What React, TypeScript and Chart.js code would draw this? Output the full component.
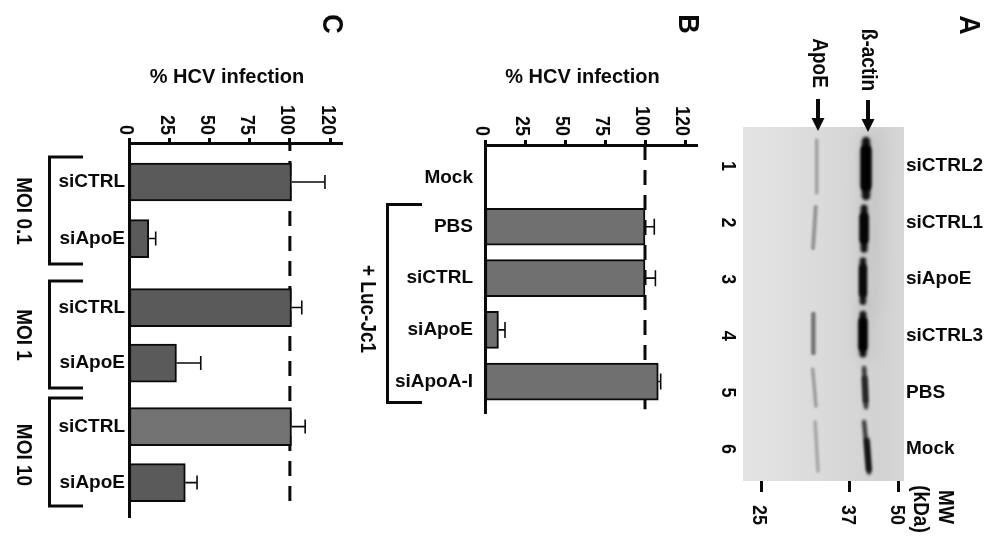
import React, { useEffect, useRef } from "react";
import { Chart, registerables } from "chart.js";

Chart.register(...registerables);

// ---------- panel C ----------
const cLabels = ["siCTRL", "siApoE", "siCTRL", "siApoE", "siCTRL", "siApoE"];
const cValues = [101, 12.3, 101, 29.5, 101, 35];
const cErrorTop = [121.8, 16.6, 107.4, 44.6, 109.5, 42.3];
const cBarColors = ["#5a5a5a", "#5a5a5a", "#5a5a5a", "#5a5a5a", "#727272", "#5a5a5a"];
const cRows = [0.647, 1.584, 2.728, 3.648, 4.701, 5.63];
const cGroups = ["MOI 0.1", "MOI 1", "MOI 10"];

// ---------- panel B ----------
const bLabels = ["Mock", "PBS", "siCTRL", "siApoE", "siApoA-I"];
const bValues = [null, 100, 100, 8.4, 108.3];
const bErrorTop = [null, 105.8, 106.5, 12.5, 109.8];
const bBarColors = ["#707070", "#707070", "#707070", "#707070", "#707070"];
const bRows = [0.641, 1.602, 2.608, 3.622, 4.634];
const bGroups = ["+ Luc-Jc1"];

// ---------- shared value axis ----------
const valueTicks = [0, 25, 50, 75, 100, 125];
const valueTickLabels = ["0", "25", "50", "75", "100", "120"];
const referenceValue = 100;

// ---------- panel A ----------
const laneNames = ["siCTRL2", "siCTRL1", "siApoE", "siCTRL3", "PBS", "Mock"];
const laneNumbers = ["1", "2", "3", "4", "5", "6"];
const lanes = [1, 2, 3, 4, 5, 6];
const mwLabels = ["25", "37", "50"];
const mwPositions = [11.2, 66.3, 96.7];
const actinHalo = [
  [[80, 0.6], [78, 3.4]],
  [[76, 3.65], [76, 4.28]],
];
const actinHaloTones = ["rgba(0,0,0,0.05)", "rgba(0,0,0,0.05)"];
const actinHaloWeights = [24, 20];
const actinBands = [
  [[76.4, 0.56], [76.4, 1.53]],
  [[75.2, 1.74], [75.2, 2.47]],
  [[74.5, 2.67], [74.5, 3.4]],
  [[74.5, 3.62], [74.5, 4.32]],
  [[75.2, 4.57], [76.4, 5.26]],
  [[75.2, 5.52], [78.3, 6.42]],
];
const actinTones = ["#141414", "#141414", "#181818", "#141414", "#333333", "#2c2c2c"];
const actinWeights = [8.5, 7, 6.5, 7, 4.5, 4];
const actinCores = [
  [[76.4, 0.72], [76.4, 1.35]],
  [[75.2, 1.9], [75.2, 2.3]],
  [[74.5, 2.8], [74.5, 3.25]],
  [[74.5, 3.75], [74.5, 4.2]],
  [[75.6, 4.75], [76.2, 5.15]],
  [[77, 5.85], [78.2, 6.36]],
];
const actinCoreTones = ["#020202", "#050505", "#0a0a0a", "#020202", "#262626", "#121212"];
const actinCoreWeights = [11, 9, 7.5, 9, 5.2, 5.5];
const apoeBands = [
  [[45.8, 0.541], [45.8, 1.477]],
  [[45.2, 1.724], [43.5, 2.449]],
  [[43.7, 3.615], [43.7, 4.304]],
  [[43.3, 4.587], [45.3, 5.24]],
  [[44.8, 5.523], [46.6, 6.389]],
];
const apoeTones = ["#a0a0a0", "#949494", "#747474", "#9c9c9c", "#a6a6a6"];
const apoeWeights = [3.5, 4, 4.5, 3.5, 3.5];

const FONT = '"Liberation Sans", Arial, sans-serif';
const INK = "#0a0a0a";

function turnedText(ctx: any, text: string, x: number, y: number, size: number, align: any = "center") {
  ctx.save();
  ctx.translate(x, y);
  ctx.rotate(Math.PI / 2);
  ctx.scale(1, 1.12);
  ctx.font = `bold ${size}px ${FONT}`;
  ctx.fillStyle = INK;
  ctx.textAlign = align;
  ctx.textBaseline = "middle";
  ctx.fillText(text, 0, 0);
  ctx.restore();
}

function flatText(ctx: any, text: string, x: number, y: number, size: number) {
  ctx.save();
  ctx.font = `bold ${size}px ${FONT}`;
  ctx.fillStyle = INK;
  ctx.textAlign = "center";
  ctx.textBaseline = "middle";
  ctx.fillText(text, x, y);
  ctx.restore();
}

function bracket(ctx: any, x: number, y0: number, y1: number, xEnd: number, w: number) {
  ctx.save();
  ctx.strokeStyle = INK;
  ctx.lineWidth = w;
  ctx.lineJoin = "miter";
  ctx.beginPath();
  ctx.moveTo(xEnd, y0);
  ctx.lineTo(x, y0);
  ctx.lineTo(x, y1);
  ctx.lineTo(xEnd, y1);
  ctx.stroke();
  ctx.restore();
}

function barPanelConfig(p: any): any {
  const annotate = {
    id: "annotate",
    afterDatasetsDraw(chart: any) {
      const { ctx, scales } = chart;
      ctx.save();
      ctx.strokeStyle = INK;
      ctx.lineWidth = 1.6;
      p.errors.forEach((hi: number | null, i: number) => {
        if (hi == null) return;
        const y = scales.y.getPixelForValue(p.rows[i]);
        const x0 = scales.x.getPixelForValue(p.values[i]);
        const x1 = scales.x.getPixelForValue(hi);
        ctx.beginPath();
        ctx.moveTo(x0, y);
        ctx.lineTo(x1, y);
        ctx.moveTo(x1, y - p.cap / 2);
        ctx.lineTo(x1, y + p.cap / 2);
        ctx.stroke();
      });
      ctx.restore();
    },
    afterDraw(chart: any) {
      const { ctx, scales } = chart;
      scales.x.ticks.forEach((t: any, i: number) => {
        turnedText(ctx, valueTickLabels[i], scales.x.getPixelForValue(t.value) - 3, p.tickEnd, 18, "right");
      });
      flatText(ctx, "% HCV infection", p.titleX, 77, 20);
      turnedText(ctx, p.letter, p.letterX, 24, 27);
      p.brackets.forEach((b: number[]) => bracket(ctx, p.bracketX, b[0], b[1], p.bracketEnd, p.bracketW));
      p.groups.forEach((g: string, i: number) => turnedText(ctx, g, p.groupX, p.groupY[i], 19));
    },
  };
  return {
    data: {
      datasets: [
        {
          type: "bar",
          data: p.values.map((v: number | null, i: number) => ({ x: v, y: p.rows[i] })),
          backgroundColor: p.colors,
          borderColor: INK,
          borderWidth: 2,
          borderSkipped: false,
          barThickness: p.thickness,
          order: 1,
        },
        {
          type: "line",
          data: [
            { x: referenceValue, y: 0 },
            { x: referenceValue, y: p.dashEnd },
          ],
          borderColor: INK,
          borderWidth: 3,
          borderDash: [15, 10],
          borderDashOffset: p.dashOffset,
          pointRadius: 0,
          fill: false,
          order: 2,
        },
      ],
    },
    options: {
      indexAxis: "y",
      responsive: false,
      animation: false,
      events: [],
      layout: {
        autoPadding: false,
        padding: { left: 0, top: 0, right: 989 - p.right, bottom: 540 - p.bottom },
      },
      plugins: { legend: { display: false }, title: { display: false }, tooltip: { enabled: false } },
      scales: {
        x: {
          type: "linear",
          position: "top",
          min: 0,
          max: p.xMax,
          afterFit: (s: any) => { s.height = p.top; },
          afterBuildTicks: (s: any) => { s.ticks = valueTicks.map((value) => ({ value })); },
          ticks: { display: false },
          grid: { drawOnChartArea: false, drawTicks: true, tickLength: 5, tickWidth: 3, tickColor: INK },
          border: { color: INK, width: 3 },
        },
        y: {
          type: "linear",
          position: "left",
          reverse: true,
          offset: false,
          min: 0,
          max: p.yMax,
          afterFit: (s: any) => { s.width = p.left; },
          afterBuildTicks: (s: any) => { s.ticks = p.rows.map((value: number) => ({ value })); },
          ticks: {
            autoSkip: false,
            padding: p.labelGap,
            color: INK,
            font: { family: FONT, weight: "bold", size: 19 },
            callback: (_: any, i: number) => p.labels[i],
          },
          grid: { display: true, offset: false, drawOnChartArea: false, drawTicks: false },
          border: { color: INK, width: 3 },
        },
      },
    },
    plugins: [annotate],
  };
}

function arrow(ctx: any, x: number, y0: number, y1: number) {
  ctx.save();
  ctx.fillStyle = INK;
  ctx.fillRect(x - 2, y0, 4, y1 - y0 - 12);
  ctx.beginPath();
  ctx.moveTo(x - 6.5, y1 - 13);
  ctx.lineTo(x + 6.5, y1 - 13);
  ctx.lineTo(x, y1);
  ctx.closePath();
  ctx.fill();
  ctx.restore();
}

function bandSet(bands: number[][][], tones: string[], weights: number[], blur: string) {
  return bands.map((band, i) => ({
    data: band.map((pt) => ({ x: pt[0], y: pt[1] })),
    showLine: true,
    borderColor: tones[i],
    borderWidth: weights[i],
    borderCapStyle: "round",
    pointRadius: 0,
    fill: false,
    blur,
  }));
}

function gelConfig(): any {
  const gel = {
    id: "gel",
    beforeDatasetsDraw(chart: any) {
      const { ctx, chartArea: a } = chart;
      const g = ctx.createLinearGradient(a.left, 0, a.right, 0);
      g.addColorStop(0, "#e4e4e4");
      g.addColorStop(0.5, "#dadada");
      g.addColorStop(0.85, "#d2d2d2");
      g.addColorStop(1, "#d6d6d6");
      ctx.save();
      ctx.fillStyle = g;
      ctx.fillRect(a.left, a.top, a.right - a.left, a.bottom - a.top);
      ctx.restore();
    },
    beforeDatasetDraw(chart: any, args: any) {
      chart.ctx.filter = chart.data.datasets[args.index].blur;
    },
    afterDatasetDraw(chart: any) {
      chart.ctx.filter = "none";
    },
    afterDraw(chart: any) {
      const { ctx, scales } = chart;
      scales.y.ticks.forEach((t: any, i: number) => {
        turnedText(ctx, laneNumbers[i], 728, scales.y.getPixelForValue(t.value), 18);
      });
      scales.x.ticks.forEach((t: any, i: number) => {
        turnedText(ctx, mwLabels[i], scales.x.getPixelForValue(t.value) - 2, 515, 18);
      });
      turnedText(ctx, "MW", 945, 507, 19);
      turnedText(ctx, "(kDa)", 920, 509, 19);
      turnedText(ctx, "ApoE", 819, 63, 19);
      turnedText(ctx, "ß-actin", 868, 60, 19);
      turnedText(ctx, "A", 968, 25, 27);
      arrow(ctx, 818, 99, 131);
      arrow(ctx, 868, 100, 132);
    },
  };
  return {
    type: "scatter",
    data: {
      datasets: [
        ...bandSet(actinCores, actinCoreTones, actinCoreWeights, "blur(1.6px)"),
        ...bandSet(actinBands, actinTones, actinWeights, "blur(1.6px)"),
        ...bandSet(apoeBands, apoeTones, apoeWeights, "blur(1.3px)"),
        ...bandSet(actinHalo, actinHaloTones, actinHaloWeights, "blur(7px)"),
      ],
    },
    options: {
      responsive: false,
      animation: false,
      events: [],
      layout: { autoPadding: false, padding: { left: 743, top: 127, right: 0, bottom: 0 } },
      plugins: { legend: { display: false }, title: { display: false }, tooltip: { enabled: false } },
      scales: {
        x: {
          type: "linear",
          position: "bottom",
          min: 0,
          max: 100,
          afterFit: (s: any) => { s.height = 59; },
          afterBuildTicks: (s: any) => { s.ticks = mwPositions.map((value) => ({ value })); },
          ticks: { display: false },
          grid: { drawOnChartArea: false, drawTicks: true, tickLength: 11, tickWidth: 3, tickColor: INK },
          border: { display: false },
        },
        y: {
          type: "linear",
          position: "right",
          reverse: true,
          min: 0.311,
          max: 6.565,
          afterFit: (s: any) => { s.width = 85; },
          afterBuildTicks: (s: any) => { s.ticks = lanes.map((value) => ({ value })); },
          ticks: {
            autoSkip: false,
            padding: 2,
            color: INK,
            font: { family: FONT, weight: "bold", size: 19 },
            callback: (_: any, i: number) => laneNames[i],
          },
          grid: { display: false, drawTicks: false },
          border: { display: false },
        },
      },
    },
    plugins: [gel],
  };
}

const cPanel = {
  labels: cLabels, values: cValues, errors: cErrorTop, colors: cBarColors, rows: cRows,
  left: 129, right: 342, top: 143, bottom: 517, xMax: 132.4, yMax: 6.2, thickness: 38,
  cap: 14, labelGap: 4, dashEnd: 6.003, dashOffset: 7, tickEnd: 135, titleX: 227,
  letter: "C", letterX: 331, bracketX: 49.5, bracketEnd: 83, bracketW: 3,
  brackets: [[157, 264], [281, 388], [398, 506]],
  groups: cGroups, groupX: 23, groupY: [211, 335, 455],
};

const bPanel = {
  labels: bLabels, values: bValues, errors: bErrorTop, colors: bBarColors, rows: bRows,
  left: 485, right: 697, top: 145, bottom: 413, xMax: 132.5, yMax: 5.25, thickness: 37,
  cap: 16, labelGap: 12, dashEnd: 5.176, dashOffset: 0, tickEnd: 136, titleX: 582.5,
  letter: "B", letterX: 687, bracketX: 387.5, bracketEnd: 422, bracketW: 3,
  brackets: [[204.5, 402.5]],
  groups: bGroups, groupX: 367, groupY: [309],
};

const canvasStyle: React.CSSProperties = { position: "absolute", left: 0, top: 0 };

export default function App() {
  const cRef = useRef<HTMLCanvasElement>(null);
  const bRef = useRef<HTMLCanvasElement>(null);
  const aRef = useRef<HTMLCanvasElement>(null);
  useEffect(() => {
    const charts = [
      new Chart(cRef.current as any, barPanelConfig(cPanel)),
      new Chart(bRef.current as any, barPanelConfig(bPanel)),
      new Chart(aRef.current as any, gelConfig()),
    ];
    return () => charts.forEach((c) => c.destroy());
  }, []);
  return (
    <div>
      <canvas ref={aRef} width={989} height={540} style={canvasStyle} />
      <canvas ref={bRef} width={989} height={540} style={canvasStyle} />
      <canvas ref={cRef} width={989} height={540} style={canvasStyle} />
    </div>
  );
}
